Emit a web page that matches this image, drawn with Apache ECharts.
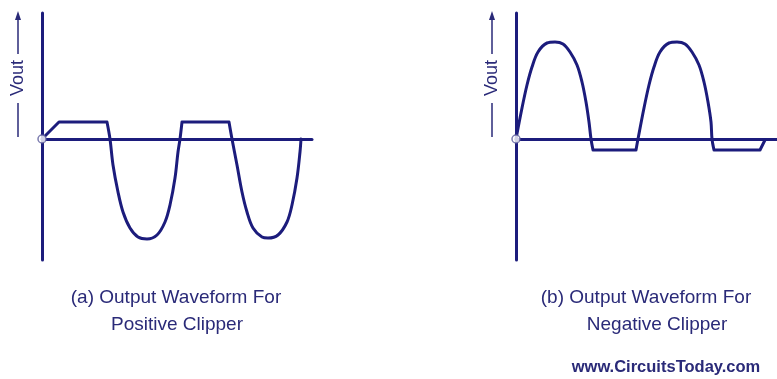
<!DOCTYPE html>
<html>
<head>
<meta charset="utf-8">
<script src="https://cdn.jsdelivr.net/npm/echarts@6/dist/echarts.min.js"></script>
<style>
  html, body { margin: 0; padding: 0; background: #fff; }
  #chart { width: 777px; height: 379px; }
</style>
</head>
<body>
<div id="chart"></div>
<script>
// '-' marks a break: the straight clipped parts and the rounded lobes are drawn as separate pieces
// (a) positive clipper output, time and Vout in arbitrary units
const posTime = [0, 17, '-', 17, 65, '-', 65, 68, 71, 76, 81, 88, 96, 105, 115, 123, 128, 133, 136, 138, 140, '-', 140,
  187, '-', 187, 190, 195, 200, 205, 211, 220, 226, 236, 245, 250, 255, 258, 259]
const posVout = [0, 17, '-', 17, 17, '-', 17, 0, -26, -53, -73, -89, -98, -100, -96, -83, -66, -39, -13, 0, 17, '-', 17,
  17, '-', 17, 0, -26, -53, -73, -89, -98, -99, -96, -83, -66, -39, -13, 0]

// (b) negative clipper output
const negTime = [0, 6, 11, 16, 22, 31, 39, 47, 54, 61, 66, 70, 73, 75, 77, '-', 77, 120, '-',
  120, 122, 128, 133, 138, 144, 153, 161, 169, 176, 183, 188, 192, 195, 196, 198, '-', 198, 244, '-', 244, 249]
const negVout = [0, 31, 54, 72, 87, 96, 97, 95, 87, 74, 57, 37, 17, 0, -11, '-', -11, -11, '-',
  -11, 0, 31, 54, 72, 87, 96, 97, 95, 87, 74, 57, 37, 17, 0, -11, '-', -11, -11, '-', -11, -1]

const captions = ['(a) Output Waveform For', 'Positive Clipper', '(b) Output Waveform For', 'Negative Clipper']
const siteName = 'www.CircuitsToday.com'
const axisName = 'Vout'

const NAVY = '#1c1c7c'
const TEXT = '#2a2a78'

const zip = (xs, ys) => xs.map((x, i) => [x, ys[i]])

function xAxisFor(gridIndex, max) {
  return {
    gridIndex, type: 'value', min: 0, max,
    axisLine: { onZero: true, lineStyle: { color: NAVY, width: 3 } },
    axisTick: { show: false }, axisLabel: { show: false }, splitLine: { show: false },
  }
}
function yAxisFor(gridIndex) {
  return {
    gridIndex, type: 'value', min: -121, max: 126,
    axisLine: { show: true, onZero: false, lineStyle: { color: NAVY, width: 3 } },
    axisTick: { show: false }, axisLabel: { show: false }, splitLine: { show: false },
  }
}
function wave(idx, data) {
  return {
    type: 'line', xAxisIndex: idx, yAxisIndex: idx, data,
    smooth: 0.35, connectNulls: false, showSymbol: false,
    lineStyle: { color: NAVY, width: 3, cap: 'round', join: 'round' }, z: 3,
  }
}
function origin(idx) {
  return {
    type: 'scatter', xAxisIndex: idx, yAxisIndex: idx, data: [[0, 0]],
    symbol: 'circle', symbolSize: 8,
    itemStyle: { color: '#fff', borderColor: '#5a5a9a', borderWidth: 1.5 }, z: 5,
  }
}
function vLabel(x) {
  return [
    { type: 'line', shape: { x1: x, y1: 137, x2: x, y2: 103 }, style: { stroke: TEXT, lineWidth: 1.5 } },
    { type: 'text', x: x, y: 78, rotation: Math.PI / 2,
      style: { text: axisName, fill: TEXT, font: '18px "Liberation Sans", Arial, sans-serif', align: 'center', verticalAlign: 'middle' } },
    { type: 'line', shape: { x1: x, y1: 54, x2: x, y2: 18 }, style: { stroke: TEXT, lineWidth: 1.5 } },
    { type: 'polygon', shape: { points: [[x, 11], [x - 3, 20], [x + 3, 20]] }, style: { fill: TEXT } },
  ]
}
function caption(text, x, y, size, weight) {
  return { type: 'text', x, y,
    style: { text, fill: TEXT, font: (weight || '') + ' ' + (size || 19) + 'px "Liberation Sans", Arial, sans-serif', align: 'center', verticalAlign: 'middle' } }
}

const chart = echarts.init(document.getElementById('chart'), null, { renderer: 'canvas' })
chart.setOption({
  animation: false,
  backgroundColor: '#fff',
  grid: [
    { left: 42, top: 13, width: 270, height: 247 },
    { left: 516, top: 13, width: 261, height: 247 },
  ],
  xAxis: [xAxisFor(0, 270), xAxisFor(1, 261)],
  yAxis: [yAxisFor(0), yAxisFor(1)],
  series: [
    wave(0, zip(posTime, posVout)),
    wave(1, zip(negTime, negVout)),
    origin(0),
    origin(1),
  ],
  graphic: [
    ...vLabel(18),
    ...vLabel(492),
    caption(captions[0], 176, 298),
    caption(captions[1], 177, 325),
    caption(captions[2], 646, 298),
    caption(captions[3], 657, 325),
    caption(siteName, 666, 367, 16.5, 'bold'),
  ],
})
</script>
</body>
</html>
